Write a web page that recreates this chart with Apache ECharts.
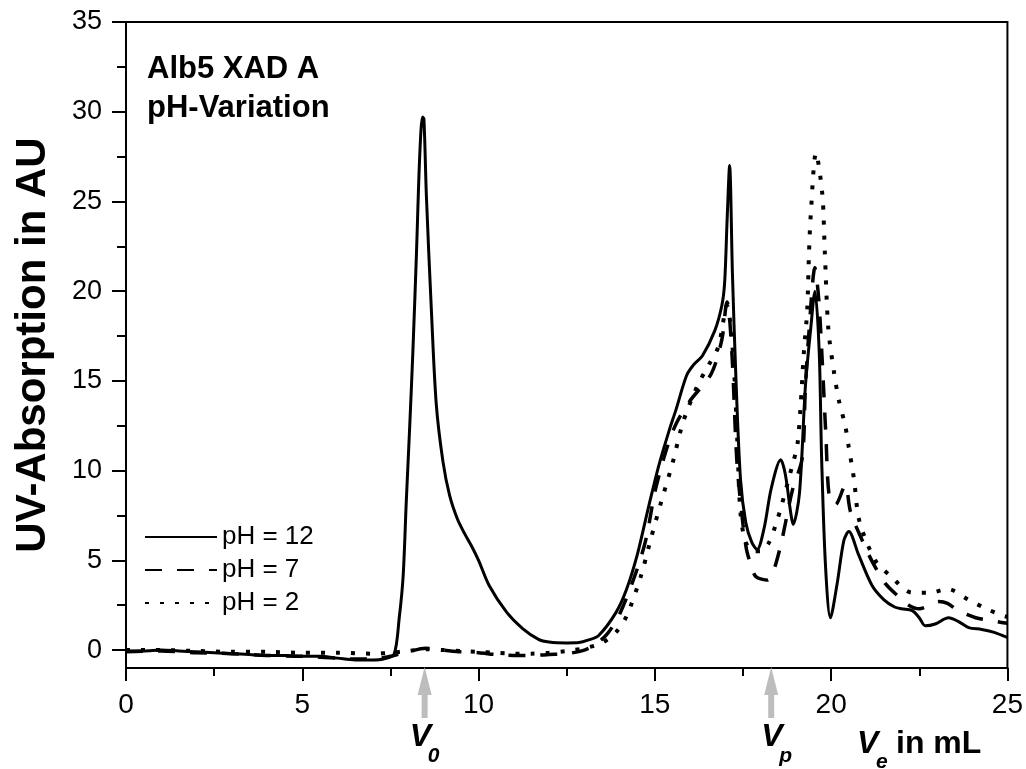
<!DOCTYPE html>
<html>
<head>
<meta charset="utf-8">
<script src="https://cdn.jsdelivr.net/npm/echarts@6/dist/echarts.min.js"></script>
<style>
html,body{margin:0;padding:0;background:#fff;}
#chart{width:1026px;height:769px;}
</style>
</head>
<body>
<div id="chart"></div>
<script>
// ---- data ----
const seriesNames = ['pH = 12', 'pH = 7', 'pH = 2'];

const ph12X = [0,0.5,1,1.5,2,2.5,3,3.5,4,4.5,5,5.5,6,6.5,7,7.3,7.6,7.75,7.86,7.95,8.05,8.14,8.24,8.33,8.41,8.45,8.52,8.66,8.8,8.99,9.18,9.4,9.6,9.8,10.0,10.3,10.8,11.25,11.7,12.0,12.5,12.85,13.1,13.4,13.9,14.2,14.5,14.8,15.1,15.4,15.6,15.9,16.1,16.35,16.7,16.9,16.98,17.05,17.12,17.2,17.3,17.43,17.58,17.75,17.9,18.1,18.3,18.57,18.7,18.85,18.92,19.1,19.27,19.42,19.54,19.66,19.73,19.84,19.98,20.17,20.36,20.5,20.78,21.16,21.5,21.8,22.0,22.3,22.5,22.67,22.95,23.33,23.6,23.9,24.27,24.6,24.93,25];
const ph12Y = [-0.05,-0.05,0.0,-0.05,-0.1,-0.15,-0.2,-0.25,-0.3,-0.3,-0.35,-0.35,-0.45,-0.55,-0.55,-0.5,-0.25,1.8,4.1,8.3,12.6,16.8,22.2,27.5,29.7,29.6,25.3,19.0,13.7,10.5,8.6,7.3,6.5,5.8,5.0,3.6,2.1,1.2,0.6,0.45,0.4,0.42,0.55,0.8,2.1,3.4,5.3,7.8,10.2,12.2,13.4,15.3,15.9,16.4,17.8,19.2,20.5,24.0,27.0,21.0,15.1,9.5,7.1,6.0,5.6,6.8,9.0,10.6,9.8,7.7,7.0,8.7,14.7,17.9,20.0,16.7,10.7,4.7,1.8,3.7,6.1,6.6,5.3,3.6,2.8,2.4,2.3,2.2,1.8,1.35,1.45,1.8,1.6,1.25,1.15,1.0,0.76,0.7];

const ph7X = [0,1,2,3,4,5,6,6.5,7,7.5,8.0,8.5,9.0,9.5,10,10.5,11,11.5,12,12.5,13.0,13.3,13.65,14.0,14.46,14.75,15.0,15.3,15.6,16.0,16.6,16.9,17.05,17.1,17.2,17.33,17.5,17.6,17.7,17.86,18.19,18.5,18.9,19.18,19.27,19.37,19.54,19.65,19.75,19.85,19.95,20.12,20.4,20.55,20.93,21.2,21.54,21.9,22.2,22.5,22.8,23.05,23.3,23.6,24.1,24.5,24.8,25];
const ph7Y = [-0.1,-0.05,-0.15,-0.2,-0.3,-0.35,-0.45,-0.5,-0.5,-0.35,-0.1,0.1,0.0,-0.1,-0.15,-0.25,-0.3,-0.3,-0.25,-0.2,0.0,0.3,0.9,2.0,4.3,6.2,8.8,11.0,12.6,13.9,15.4,17.3,19.4,19.0,16.0,10.4,7.0,5.6,4.9,4.1,3.9,5.3,8.9,10.7,14.7,17.7,21.3,19.5,16.0,12.0,8.5,8.1,9.2,7.7,5.9,4.8,3.7,3.0,2.5,2.3,2.5,2.7,2.6,2.2,1.8,1.65,1.55,1.5];

const ph2X = [0,1,2,3,4,5,6,7,7.5,8,8.5,9,9.5,10,10.5,11,11.5,12,12.5,13,13.5,13.9,14.2,14.6,14.9,15.2,15.5,15.8,16.2,16.5,16.8,17.05,17.15,17.25,17.34,17.43,17.58,17.8,18.0,18.24,18.43,18.6,18.9,19.04,19.13,19.23,19.32,19.37,19.42,19.57,19.75,19.82,19.92,20.08,20.22,20.4,20.5,20.65,20.8,21.25,21.7,22.3,22.8,23.3,23.9,24.4,24.9,25];
const ph2Y = [0.0,0.0,-0.05,-0.1,-0.1,-0.15,-0.15,-0.2,-0.15,-0.05,0.05,0.0,-0.05,-0.1,-0.15,-0.2,-0.2,-0.15,-0.05,0.1,0.4,1.0,1.9,4.1,6.3,8.4,10.4,12.7,14.7,15.8,16.9,19.2,18.0,15.5,11.6,7.6,6.0,5.5,5.5,6.0,7.0,8.1,10.3,11.4,13.5,16.7,18.9,22.0,24.2,27.7,25.4,22.2,17.9,15.5,13.9,12.5,11.3,9.5,7.2,5.0,4.1,3.2,3.2,3.4,2.8,2.3,1.9,1.85];

const yTickValues = [0,5,10,15,20,25,30,35];
const yMinorValues = [2.5,7.5,12.5,17.5,22.5,27.5,32.5];
const markers = [{x: 8.47, label: 'V', sub: '0'}, {x: 18.3, label: 'V', sub: 'p'}];

// ---- chart ----
const FONT = '"Liberation Sans", Arial, sans-serif';
const pairs = (xs, ys) => xs.map((x, i) => [x, ys[i]]);
const chart = echarts.init(document.getElementById('chart'), null, {renderer: 'canvas'});

const lineCommon = {type: 'line', showSymbol: false, symbol: 'none', smooth: 0.3, xAxisIndex: 0, yAxisIndex: 0, animation: false};

chart.setOption({
  animation: false,
  backgroundColor: '#ffffff',
  grid: {left: 126, right: 17, top: 22, bottom: 101, show: true, borderColor: '#000', borderWidth: 2, backgroundColor: 'transparent'},
  xAxis: [{
    type: 'value', min: 0, max: 25, interval: 5,
    axisLine: {show: true, onZero: false, lineStyle: {color: '#000', width: 2}},
    axisTick: {show: true, length: 13, lineStyle: {color: '#000', width: 2}},
    minorTick: {show: true, splitNumber: 2, length: 8, lineStyle: {color: '#000', width: 2}},
    splitLine: {show: false},
    axisLabel: {color: '#000', fontFamily: FONT, fontSize: 28, margin: 23}
  }],
  yAxis: [{
    type: 'value', min: -1, max: 35,
    axisLine: {show: true, onZero: false, lineStyle: {color: '#000', width: 2}},
    axisTick: {show: true, length: 14, customValues: yTickValues, lineStyle: {color: '#000', width: 2}},
    splitLine: {show: false},
    axisLabel: {color: '#000', fontFamily: FONT, fontSize: 27, margin: 24, customValues: yTickValues},
    name: 'UV-Absorption in AU', nameLocation: 'middle', nameGap: 72, nameRotate: 90,
    nameTextStyle: {color: '#000', fontFamily: FONT, fontSize: 42, fontWeight: 'bold'}
  }, {
    type: 'value', min: -1, max: 35, position: 'left',
    axisLine: {show: false},
    axisTick: {show: true, length: 9, customValues: yMinorValues, lineStyle: {color: '#000', width: 2}},
    axisLabel: {show: false},
    splitLine: {show: false}
  }],
  legend: {
    orient: 'vertical', left: 144, top: 522, padding: 0, itemWidth: 72, itemHeight: 14, itemGap: 3,
    data: seriesNames,
    itemStyle: {opacity: 0},
    textStyle: {color: '#000', fontFamily: FONT, fontSize: 26, lineHeight: 30}
  },
  series: [
    Object.assign({}, lineCommon, {name: seriesNames[0], data: pairs(ph12X, ph12Y), z: 3,
      lineStyle: {color: '#000', width: 3, type: 'solid'}, itemStyle: {color: '#000'}}),
    Object.assign({}, lineCommon, {name: seriesNames[1], data: pairs(ph7X, ph7Y), z: 2,
      lineStyle: {color: '#000', width: 3.5, type: [17, 15]}, itemStyle: {color: '#000'}}),
    Object.assign({}, lineCommon, {name: seriesNames[2], data: pairs(ph2X, ph2Y), z: 1,
      lineStyle: {color: '#000', width: 4, type: [4, 11]}, itemStyle: {color: '#000'}})
  ]
});

function txt(x, yMid, text, font) {
  return {type: 'text', x: x, y: yMid, z: 10,
    style: {text: text, font: font, fill: '#000', verticalAlign: 'middle', align: 'left'}};
}

function addAnnotations() {
  const g = [];
  g.push({type: 'text', left: 147, top: 50, style: {text: 'Alb5 XAD A\npH-Variation', font: 'bold 31px ' + FONT, fill: '#000', lineHeight: 39}});
  const axisY = chart.convertToPixel({yAxisIndex: 0}, -1);
  const BIG = 'italic bold 32px ' + FONT;
  const SUB = 'italic bold 21px ' + FONT;
  const vOffsets = [-15, -10];
  markers.forEach((m, i) => {
    const px = chart.convertToPixel({xAxisIndex: 0}, m.x);
    g.push({type: 'polygon', shape: {points: [[px, axisY - 1], [px - 7, axisY + 27], [px + 7, axisY + 27]]}, style: {fill: '#bdbdbd'}, z: 10});
    g.push({type: 'rect', shape: {x: px - 3, y: axisY + 26, width: 6, height: 24}, style: {fill: '#bdbdbd'}, z: 10});
    const vx = px + vOffsets[i];
    g.push(txt(vx, 748 - 0.3465 * 32, m.label, BIG));
    g.push(txt(vx + 18, 763 - 0.3465 * 21, m.sub, SUB));
  });
  g.push(txt(857, 755 - 0.3465 * 32, 'V', BIG));
  g.push(txt(876, 769 - 0.3465 * 21, 'e', SUB));
  g.push(txt(896, 755 - 0.3465 * 32, 'in mL', 'bold 32px ' + FONT));
  chart.setOption({graphic: g});
}
addAnnotations();
</script>
</body>
</html>
